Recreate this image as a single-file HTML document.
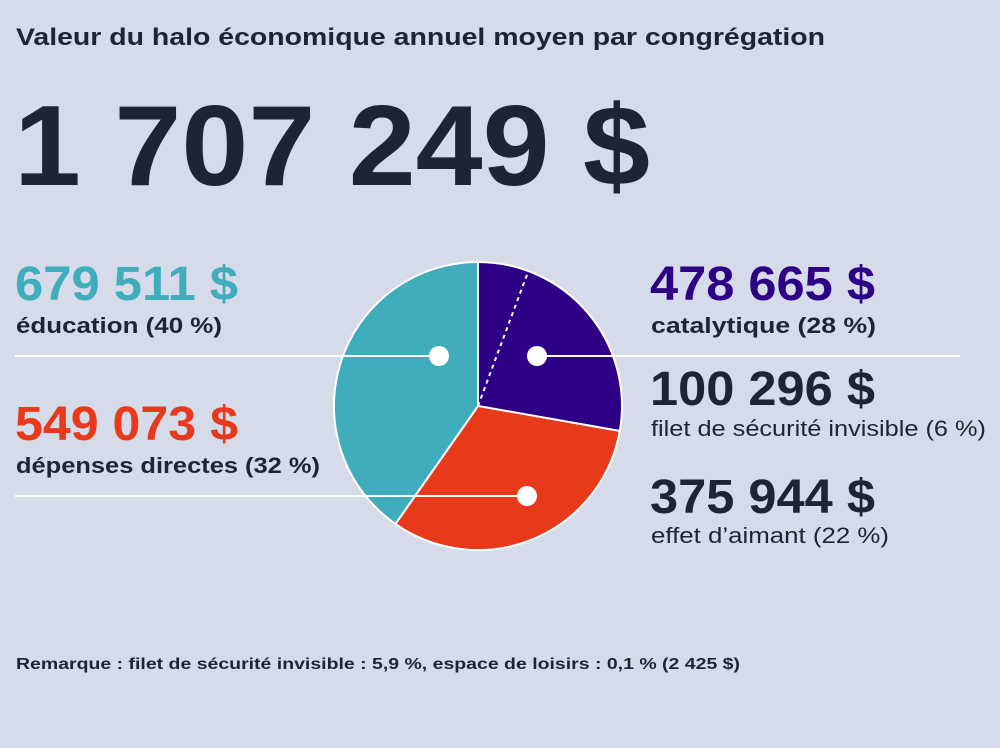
<!DOCTYPE html>
<html><head><meta charset="utf-8"><style>
html,body{margin:0;padding:0;background:#d6dbe9;}
svg{display:block;font-family:"Liberation Sans",sans-serif;font-weight:bold;}
</style></head><body>
<svg width="1000" height="748" viewBox="0 0 1000 748">
<rect width="1000" height="748" fill="#d6dbe9"/>
<text x="16" y="45" font-size="24" fill="#1c2533" textLength="809" lengthAdjust="spacingAndGlyphs">Valeur du halo économique annuel moyen par congrégation</text>
<text x="14" y="185" font-size="114" fill="#1c2533" textLength="636" lengthAdjust="spacingAndGlyphs">1 707 249 $</text>

<g stroke="#fff" stroke-width="2" stroke-linejoin="round">
<path d="M478,406 L478,262 A144,144 0 0 1 619.8,431 Z" fill="#2e0085"/>
<path d="M478,406 L619.8,431 A144,144 0 0 1 395.4,524 Z" fill="#e8391a"/>
<path d="M478,406 L395.4,524 A144,144 0 0 1 478,262 Z" fill="#3fadbb"/>
</g>
<line x1="478" y1="406" x2="528.4" y2="271" stroke="#fff" stroke-width="2" stroke-dasharray="4,4"/>
<g stroke="#fff" stroke-width="2">
<line x1="15" y1="356" x2="439" y2="356"/>
<line x1="537" y1="356" x2="960" y2="356"/>
<line x1="15" y1="496" x2="527" y2="496"/>
</g>
<g fill="#fff">
<circle cx="439" cy="356" r="10"/>
<circle cx="537" cy="356" r="10"/>
<circle cx="527" cy="496" r="10"/>
</g>

<text x="15" y="300" font-size="48" fill="#3fadbb" textLength="223" lengthAdjust="spacingAndGlyphs">679 511 $</text>
<text x="16" y="333" font-size="22" fill="#1c2533" textLength="206" lengthAdjust="spacingAndGlyphs">éducation (40 %)</text>
<text x="15" y="440" font-size="48" fill="#e8391a" textLength="223" lengthAdjust="spacingAndGlyphs">549 073 $</text>
<text x="16" y="473" font-size="22" fill="#1c2533" textLength="304" lengthAdjust="spacingAndGlyphs">dépenses directes (32 %)</text>

<text x="650" y="300" font-size="48" fill="#2e0085" textLength="225" lengthAdjust="spacingAndGlyphs">478 665 $</text>
<text x="651" y="333" font-size="22" fill="#1c2533" textLength="225" lengthAdjust="spacingAndGlyphs">catalytique (28 %)</text>
<text x="650" y="405" font-size="48" fill="#1c2533" textLength="225" lengthAdjust="spacingAndGlyphs">100 296 $</text>
<text x="651" y="436" font-size="22" font-weight="normal" fill="#1c2533" textLength="335" lengthAdjust="spacingAndGlyphs">filet de sécurité invisible (6 %)</text>
<text x="650" y="513" font-size="48" fill="#1c2533" textLength="225" lengthAdjust="spacingAndGlyphs">375 944 $</text>
<text x="651" y="543" font-size="22" font-weight="normal" fill="#1c2533" textLength="238" lengthAdjust="spacingAndGlyphs">effet d’aimant (22 %)</text>

<text x="16" y="669" font-size="16" fill="#1c2533" textLength="724" lengthAdjust="spacingAndGlyphs">Remarque : filet de sécurité invisible : 5,9 %, espace de loisirs : 0,1 % (2 425 $)</text>
</svg>
</body></html>
